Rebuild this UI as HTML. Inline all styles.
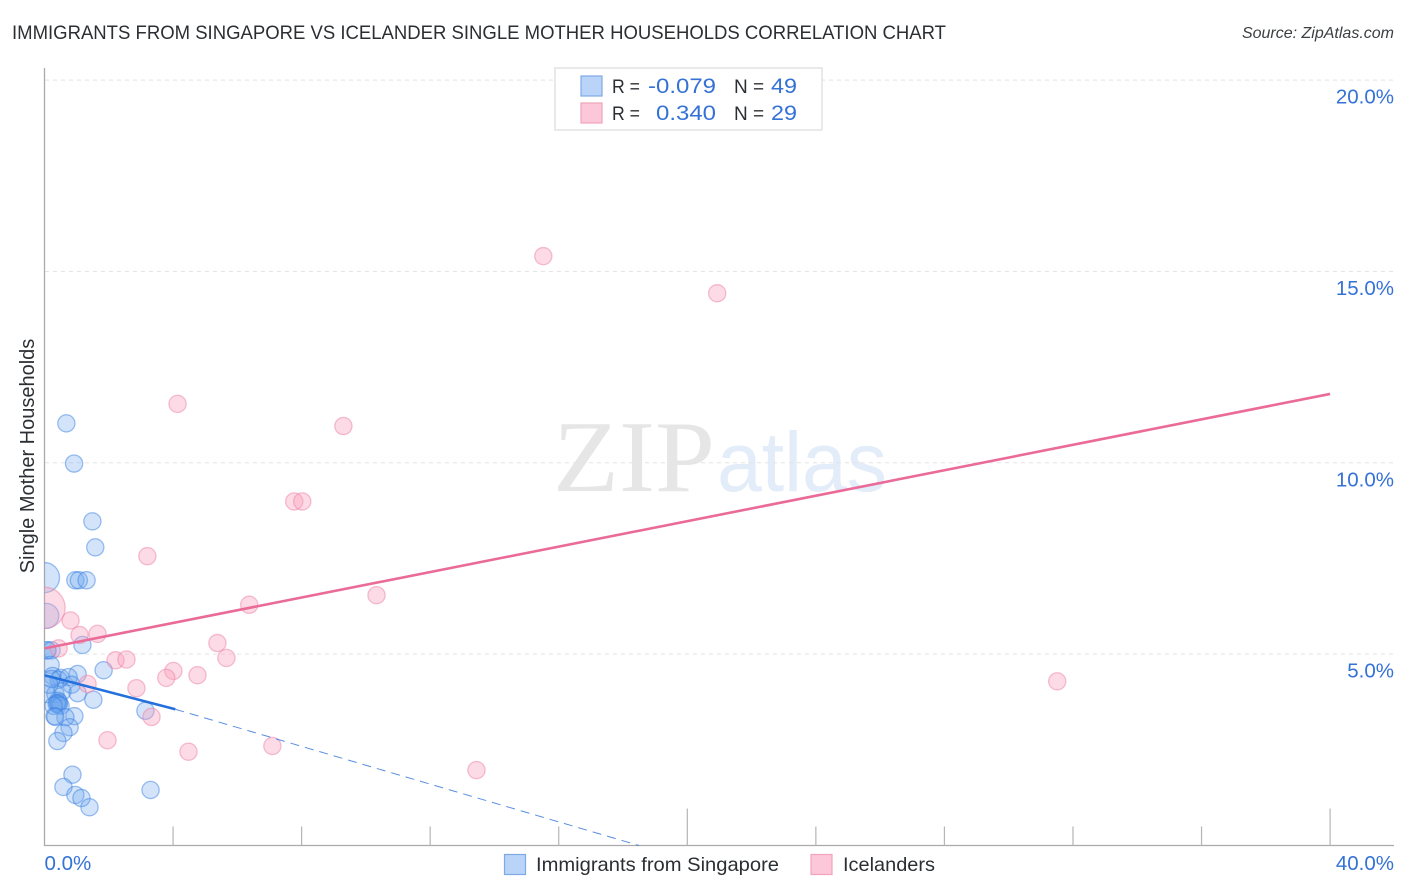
<!DOCTYPE html>
<html lang="en">
<head>
<meta charset="utf-8">
<title>Immigrants from Singapore vs Icelander Single Mother Households Correlation Chart</title>
<style>
html,body{margin:0;padding:0;background:#fff;}
svg{display:block;font-family:"Liberation Sans",sans-serif;}
</style>
</head>
<body>
<svg id="chart" width="1406" height="892" viewBox="0 0 1406 892">
  <defs><clipPath id="plot-clip"><rect x="44.5" y="68" width="1350" height="778"/></clipPath></defs>
  <text x="12" y="39" font-size="19" fill="#2b2f33" textLength="934" lengthAdjust="spacingAndGlyphs">IMMIGRANTS FROM SINGAPORE VS ICELANDER SINGLE MOTHER HOUSEHOLDS CORRELATION CHART</text>
  <text x="1394" y="38" font-size="16" font-style="italic" fill="#3c4043" text-anchor="end">Source: ZipAtlas.com</text>

  <g>
    <text x="553" y="491" font-family="'Liberation Serif',serif" font-size="102" fill="#e6e6e6" textLength="162" lengthAdjust="spacingAndGlyphs">ZIP</text>
    <text x="717" y="491" font-size="84" fill="#e3ecf9" textLength="170" lengthAdjust="spacingAndGlyphs">atlas</text>
  </g>

  <g id="grid"></g>
  <g id="axes"></g>
  <g id="marks" clip-path="url(#plot-clip)"></g>

  <text transform="translate(34,456) rotate(-90)" font-size="20" fill="#2b2f33" text-anchor="middle">Single Mother Households</text>

  <g>
    <rect x="555" y="68" width="267" height="62" fill="#fff" stroke="#e2e2e2" stroke-width="1.5"/>
    <rect x="581" y="76" width="21" height="20" fill="#b9d4f8" stroke="#7fa9e6" stroke-width="1.2"/>
    <rect x="581" y="103" width="21" height="20" fill="#fcc8d9" stroke="#f0a3bb" stroke-width="1.2"/>
    <text x="612" y="93" font-size="19" fill="#2b2f33" textLength="28" lengthAdjust="spacingAndGlyphs">R =</text>
    <text x="648" y="93" font-size="21.5" fill="#3572d6" textLength="68" lengthAdjust="spacingAndGlyphs">-0.079</text>
    <text x="734" y="93" font-size="19" fill="#2b2f33">N =</text>
    <text x="771" y="93" font-size="21.5" fill="#3572d6" textLength="26" lengthAdjust="spacingAndGlyphs">49</text>
    <text x="612" y="120" font-size="19" fill="#2b2f33" textLength="28" lengthAdjust="spacingAndGlyphs">R =</text>
    <text x="656" y="120" font-size="21.5" fill="#3572d6" textLength="60" lengthAdjust="spacingAndGlyphs">0.340</text>
    <text x="734" y="120" font-size="19" fill="#2b2f33">N =</text>
    <text x="771" y="120" font-size="21.5" fill="#3572d6" textLength="26" lengthAdjust="spacingAndGlyphs">29</text>
  </g>

  <g>
    <g>
      <rect x="504.5" y="854.5" width="21" height="20" fill="#b9d4f8" stroke="#7fa9e6" stroke-width="1.2"/>
      <text x="536" y="871" font-size="19.5" fill="#2b2f33" textLength="243" lengthAdjust="spacingAndGlyphs">Immigrants from Singapore</text>
    </g>
    <g>
      <rect x="811" y="854.5" width="21" height="20" fill="#fcc8d9" stroke="#f0a3bb" stroke-width="1.2"/>
      <text x="843" y="871" font-size="19.5" fill="#2b2f33" textLength="92" lengthAdjust="spacingAndGlyphs">Icelanders</text>
    </g>
  </g>
</svg>
<script>
// Chart data (percent values)
const yTicks = [5, 10, 15, 20];
const yTickLabels = ["5.0%", "10.0%", "15.0%", "20.0%"];
const xTicks = [0, 4, 8, 12, 16, 20, 24, 28, 32, 36, 40];
const xMajorTicks = [20, 40];
const xEndLabels = ["0.0%", "40.0%"];
const xEndValues = [0, 40];

const singaporeX = [0.68,0.92,1.49,1.58,0.0,0.96,1.07,1.31,0.06,1.18,0.09,0.09,0.22,0.19,1.84,1.03,0.25,0.5,0.44,0.75,0.84,0.09,0.34,0.56,1.03,1.52,0.42,0.45,0.4,0.38,0.44,0.5,0.28,0.93,3.14,0.65,0.31,0.78,0.59,0.4,0.87,0.59,0.96,1.15,1.4,3.3,0.34,0.22,0.15];
const singaporeY = [11.03,9.98,8.47,7.79,7.0,6.93,6.93,6.93,6.0,5.24,5.1,5.1,5.1,4.72,4.58,4.48,4.43,4.38,4.33,4.4,4.2,3.96,3.96,4.03,3.98,3.81,3.78,3.74,3.72,3.7,3.68,3.65,3.65,3.38,3.52,3.35,3.38,3.09,2.94,2.73,1.85,1.53,1.32,1.24,1.0,1.45,3.36,4.35,4.2];

const icelandX = [15.52,20.93,4.14,9.3,7.77,8.02,3.2,6.37,10.33,0.0,0.81,1.09,1.65,0.44,2.21,2.55,5.38,5.66,4.01,3.79,4.76,1.34,2.86,3.33,1.96,4.48,7.09,13.44,31.51];
const icelandY = [15.4,14.43,11.54,10.96,8.99,8.99,7.56,6.29,6.54,6.21,5.88,5.5,5.53,5.15,4.84,4.86,5.29,4.9,4.56,4.38,4.45,4.22,4.11,3.36,2.75,2.45,2.6,1.97,4.29];

const bubbleSingapore = [1,1,1,1,1.75,1,1,1,1.45,1,1,1,1,1,1,1,1,1,1,1,1,1,1,1,1,1,1,1,1,1,1,1,1,1,1,1,1,1,1,1,1,1,1,1,1,1,1,1,1];
const bubbleIceland = [1,1,1,1,1,1,1,1,1,2.4,1,1,1,1,1,1,1,1,1,1,1,1,1,1,1,1,1,1,1];

const singaporeTrendX = [0, 4.07];
const singaporeTrendY = [4.45, 3.56];
const singaporeDashX = [4.07, 18.5];
const singaporeDashY = [3.56, 0];
const icelandTrendX = [0, 40];
const icelandTrendY = [5.15, 11.8];

// Axis functions
function xScale(v) { return 44.5 + v * 32.14; }
function yScale(v) { return 845.5 - v * 38.27; }

const NS = 'http://www.w3.org/2000/svg';
function make(tag, attrs, parent) {
  const el = document.createElementNS(NS, tag);
  for (const k in attrs) el.setAttribute(k, attrs[k]);
  parent.appendChild(el);
  return el;
}
const grid = document.getElementById('grid');
const axes = document.getElementById('axes');
const marks = document.getElementById('marks');

yTicks.forEach(function (t, i) {
  const line = make('line', {x1: 45, x2: 1394, y1: yScale(t), y2: yScale(t), stroke: '#e4e4e4', 'stroke-width': 1, 'stroke-dasharray': '4 4'}, grid);
  
  
  const label = make('text', {x: 1394, y: yScale(t) + 23.5, 'font-size': 20.5, fill: '#3572d6', 'text-anchor': 'end'}, axes);
  label.textContent = yTickLabels[i];
  
  
});

const yAxis = make('line', {x1: 44.5, x2: 44.5, y1: 68, y2: 846, stroke: '#aaaaaa', 'stroke-width': 1.3}, axes);


const xAxis = make('line', {x1: 44, x2: 1394, y1: 845.5, y2: 845.5, stroke: '#aaaaaa', 'stroke-width': 1.3}, axes);



xTicks.forEach(function (t) {
  if (t === 0) return;
  const len = xMajorTicks.indexOf(t) >= 0 ? 37 : 19;
  const tick = make('line', {x1: xScale(t), x2: xScale(t), y1: 845.5 - len, y2: 845.5, stroke: '#b5b5b5', 'stroke-width': 1.2}, axes);
  
  
});

xEndValues.forEach(function (t, i) {
  const label = make('text', {x: i === 0 ? xScale(t) : 1394, y: 870, 'font-size': 20.5, fill: '#3572d6', 'text-anchor': i === 0 ? 'start' : 'end'}, axes);
  label.textContent = xEndLabels[i];
  
  
});

singaporeX.forEach(function (v, i) {
  const c = make('circle', {cx: xScale(v), cy: yScale(singaporeY[i]), r: 8.6 * bubbleSingapore[i], fill: 'rgba(108,164,240,0.3)', stroke: 'rgba(60,130,225,0.5)', 'stroke-width': 1.3}, marks);
  
  
});
icelandX.forEach(function (v, i) {
  const c = make('circle', {cx: xScale(v), cy: yScale(icelandY[i]), r: 8.6 * bubbleIceland[i], fill: 'rgba(250,160,190,0.38)', stroke: 'rgba(235,130,165,0.5)', 'stroke-width': 1.3}, marks);
  
  
});

const dash = make('line', {x1: xScale(singaporeDashX[0]), y1: yScale(singaporeDashY[0]), x2: xScale(singaporeDashX[1]), y2: yScale(singaporeDashY[1]), stroke: '#2f72d8', 'stroke-width': 1, 'stroke-dasharray': '9 6', 'stroke-opacity': 0.8}, marks);


const trendBlue = make('line', {x1: xScale(singaporeTrendX[0]), y1: yScale(singaporeTrendY[0]), x2: xScale(singaporeTrendX[1]), y2: yScale(singaporeTrendY[1]), stroke: '#2470dc', 'stroke-width': 2.6}, marks);


const trendPink = make('line', {x1: xScale(icelandTrendX[0]), y1: yScale(icelandTrendY[0]), x2: xScale(icelandTrendX[1]), y2: yScale(icelandTrendY[1]), stroke: '#ea6b98', 'stroke-width': 2.6}, marks);


</script>
</body>
</html>
